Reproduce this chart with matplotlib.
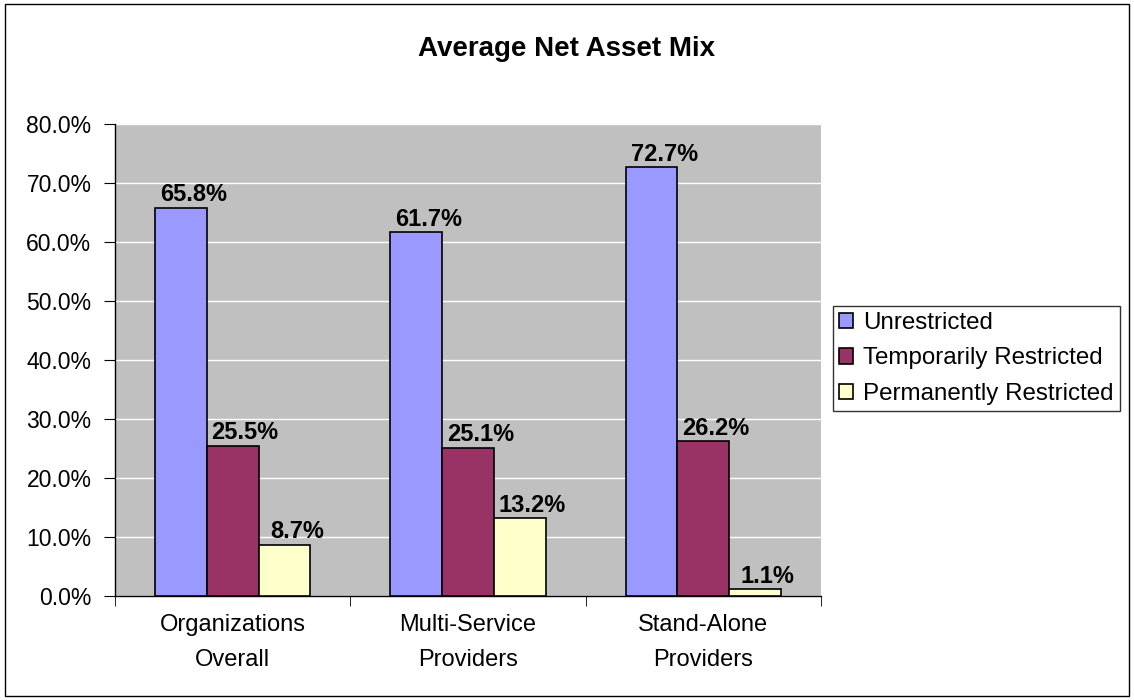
import numpy as np
import matplotlib.pyplot as plt
import matplotlib.ticker as ticker
from matplotlib.patches import Rectangle

plt.rcParams.update({
    "font.family": ["Liberation Sans", "DejaVu Sans"],
    "font.size": 16.5,
})

# data
categories = ["Organizations\nOverall", "Multi-Service\nProviders", "Stand-Alone\nProviders"]
series_names = ["Unrestricted", "Temporarily Restricted", "Permanently Restricted"]
unrestricted = [65.8, 61.7, 72.7]
temporarily = [25.5, 25.1, 26.2]
permanently = [8.7, 13.2, 1.1]
colors = ["#9999FF", "#993366", "#FFFFCC"]

fig = plt.figure(figsize=(11.34, 7.0), dpi=100)
ax = fig.add_axes([0.1014, 0.1486, 0.6226, 0.6743])

# outer chart border
fig.patches.append(Rectangle((0.004, 0.006), 0.992, 0.988, transform=fig.transFigure,
                             fill=False, edgecolor="black", linewidth=1.0))

x = np.arange(len(categories))
w = 0.22
for i, (vals, name) in enumerate(zip([unrestricted, temporarily, permanently], series_names)):
    pos = x + (i - 1) * w
    ax.bar(pos, vals, width=w, color=colors[i], edgecolor="black", linewidth=1.2,
           label=name, zorder=3)
    for px, v in zip(pos, vals):
        ax.annotate(f"{v:.1f}%", (px, v), xytext=(9, 1), textcoords="offset points",
                    ha="center", va="bottom", fontweight="bold", fontsize=17, zorder=4)

ax.set_facecolor("#C0C0C0")
ax.set_xlim(-0.5, 2.5)
ax.set_ylim(0, 80)
ax.yaxis.set_major_locator(ticker.MultipleLocator(10))
ax.yaxis.set_major_formatter(ticker.FuncFormatter(lambda v, p: f"{v:.1f}%"))
ax.grid(axis="y", color="white", linewidth=1.0, zorder=0)
ax.set_axisbelow(True)

ax.set_xticks(x)
ax.set_xticklabels(categories, linespacing=1.75, fontsize=17)
ax.set_xticks([-0.5, 0.5, 1.5, 2.5], minor=True)
ax.tick_params(axis="x", which="major", length=0, pad=13)
ax.tick_params(axis="x", which="minor", length=7, direction="out")
ax.tick_params(axis="y", length=8, direction="out", pad=9)

for s in ["top", "right"]:
    ax.spines[s].set_visible(False)
for s in ["left", "bottom"]:
    ax.spines[s].set_color("black")
    ax.spines[s].set_linewidth(1.0)

fig.text(0.5, 0.93, "Average Net Asset Mix", ha="center", va="center",
         fontsize=20, fontweight="bold")

leg = ax.legend(loc="center left", bbox_to_anchor=(0.7345, 0.488), bbox_transform=fig.transFigure,
                frameon=True, fancybox=False, edgecolor="black", fontsize=17.4,
                handlelength=0.6, handleheight=0.6, handletextpad=0.4,
                labelspacing=0.55, borderpad=0.25, borderaxespad=0)
leg.get_frame().set_linewidth(1.0)

plt.savefig("out.png", dpi=100)
